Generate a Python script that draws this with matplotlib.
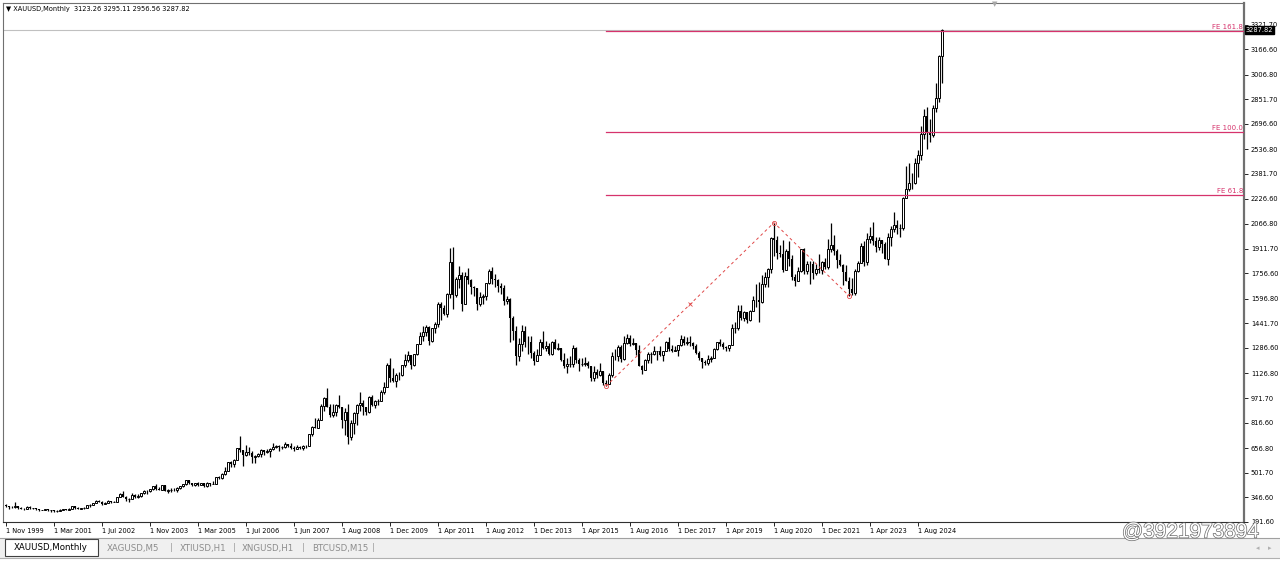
import numpy as np
import matplotlib
matplotlib.use("Agg")
import matplotlib.pyplot as plt
from matplotlib.patches import Rectangle
from matplotlib import patheffects

matplotlib.rc('font', family='DejaVu Sans', size=5)

# monthly XAUUSD, Nov 1999 .. Apr 2025 (broker history has a few extra bars in 2006-07)
closes = [
    291.4, 288.8,
    283.3, 293.7, 276.8, 273.6, 272.3, 288.2, 276.8, 277.6, 273.5, 264.5, 269.1, 272.2,
    265.6, 266.7, 257.7, 263.2, 267.5, 270.6, 265.9, 273.0, 293.1, 278.8, 275.5, 278.7,
    282.3, 296.9, 301.4, 308.2, 326.6, 318.5, 304.7, 312.8, 323.7, 316.9, 317.6, 347.2,
    367.5, 347.5, 334.9, 336.8, 361.4, 346.0, 354.8, 375.6, 388.0, 383.8, 398.0, 416.1,
    399.8, 395.9, 423.7, 388.5, 393.3, 395.8, 391.4, 407.3, 415.7, 428.4, 453.4, 438.0,
    422.2, 435.5, 427.5, 435.7, 417.3, 437.1, 429.0, 433.3, 473.3, 470.8, 495.7, 513.0,
    568.8, 556.0, 582.0, 654.5, 643.0, 613.5,
    632.5, 626.3, 599.3, 603.8, 620.0, 646.7, 632.0, 640.0, 650.5, 665.5, 668.0, 661.8,
    664.0, 679.4, 672.0, 657.5, 650.5,
    665.5, 660.0, 672.0, 668.0, 742.8, 789.5, 783.5, 833.8,
    923.3, 971.5, 916.2, 864.5, 885.8, 928.3, 913.0, 833.0, 880.8, 724.0, 814.5, 878.2,
    927.3, 942.5, 916.5, 883.3, 979.5, 927.3, 954.8, 955.5, 1007.7, 1040.0, 1181.5, 1096.5,
    1081.0, 1118.5, 1115.5, 1179.3, 1214.0, 1244.0, 1181.0, 1247.5, 1308.5, 1358.8, 1384.5, 1421.1,
    1333.0, 1411.3, 1439.0, 1563.7, 1536.5, 1500.4, 1628.3, 1826.0, 1620.0, 1722.0, 1746.0, 1565.8,
    1738.0, 1711.3, 1668.9, 1663.9, 1560.5, 1604.2, 1614.9, 1692.6, 1772.1, 1719.2, 1713.1, 1675.4,
    1663.5, 1579.0, 1597.1, 1472.0, 1392.6, 1234.6, 1313.2, 1395.9, 1327.1, 1323.5, 1253.1, 1201.6,
    1243.9, 1326.4, 1283.7, 1295.8, 1245.8, 1327.1, 1282.9, 1287.4, 1208.9, 1171.6, 1182.8, 1183.9,
    1283.4, 1212.7, 1183.7, 1183.9, 1190.3, 1172.4, 1095.4, 1134.6, 1115.1, 1142.0, 1064.5, 1060.3,
    1116.5, 1238.0, 1234.4, 1292.9, 1214.7, 1320.6, 1349.7, 1308.4, 1315.8, 1273.5, 1173.3, 1150.7,
    1210.1, 1248.9, 1249.2, 1268.3, 1268.3, 1241.6, 1269.4, 1321.4, 1279.8, 1270.1, 1274.6, 1303.1,
    1345.1, 1318.4, 1325.0, 1315.6, 1298.6, 1252.9, 1223.6, 1201.2, 1191.4, 1214.6, 1221.8, 1282.5,
    1321.2, 1313.1, 1292.4, 1283.6, 1305.4, 1409.5, 1413.8, 1520.2, 1472.5, 1513.6, 1463.8, 1517.0,
    1587.7, 1585.7, 1577.2, 1686.4, 1730.5, 1781.8, 1975.9, 1967.8, 1886.9, 1879.1, 1776.6, 1898.4,
    1847.7, 1734.0, 1707.7, 1769.1, 1906.9, 1770.1, 1814.2, 1813.6, 1756.9, 1783.4, 1774.2, 1829.2,
    1797.2, 1909.0, 1937.4, 1896.7, 1837.6, 1807.0, 1765.9, 1711.0, 1660.6, 1633.6, 1768.5, 1824.0,
    1928.4, 1826.8, 1969.3, 1990.0, 1962.7, 1919.4, 1965.1, 1940.2, 1848.6, 1983.9, 2036.4, 2062.9,
    2039.5, 2044.3, 2229.9, 2286.3, 2327.3, 2326.6, 2447.6, 2503.4, 2634.6, 2743.9, 2643.2, 2624.5,
    2798.4, 2857.8, 3123.26, 3287.82,
]
highs = [
    302, 294,
    292, 316, 294, 288, 277, 294, 293, 279, 278, 276, 270, 275,
    273, 268, 270, 265, 276, 274, 272, 279, 294, 293, 283, 281,
    285, 299, 304, 309, 328, 330, 322, 320, 329, 326, 323, 350,
    372, 389, 354, 342, 372, 366, 368, 377, 394, 393, 399, 417,
    428, 412, 427, 427, 397, 403, 407, 413, 419, 431, 456, 456,
    438, 439, 446, 438, 437, 442, 432, 447, 474, 482, 497, 540,
    572, 576, 588, 654, 730, 642,
    676, 664, 638, 610, 628, 649, 640, 648, 657, 691, 675, 674,
    672, 692, 684, 688, 668,
    678, 670, 677, 676, 745, 795, 848, 843,
    933, 976, 1033, 935, 932, 937, 990, 918, 912, 935, 835, 882,
    933, 1007, 960, 917, 983, 990, 961, 966, 1023, 1070, 1195, 1226,
    1162, 1127, 1137, 1180, 1249, 1265, 1243, 1249, 1309, 1388, 1425, 1431,
    1424, 1411, 1448, 1575, 1577, 1557, 1632, 1913, 1921, 1733, 1803, 1764,
    1764, 1791, 1718, 1677, 1667, 1640, 1627, 1693, 1781, 1796, 1755, 1723,
    1695, 1684, 1616, 1601, 1487, 1424, 1348, 1434, 1424, 1361, 1361, 1267,
    1280, 1345, 1392, 1331, 1315, 1332, 1345, 1320, 1287, 1255, 1224, 1238,
    1307, 1290, 1224, 1224, 1232, 1205, 1175, 1170, 1157, 1191, 1142, 1088,
    1128, 1263, 1283, 1304, 1304, 1362, 1375, 1367, 1352, 1318, 1306, 1182,
    1220, 1264, 1261, 1296, 1270, 1296, 1270, 1331, 1358, 1306, 1300, 1308,
    1366, 1361, 1356, 1365, 1326, 1309, 1265, 1220, 1214, 1243, 1237, 1284,
    1326, 1346, 1325, 1302, 1306, 1439, 1453, 1555, 1557, 1517, 1516, 1525,
    1611, 1689, 1704, 1747, 1765, 1789, 1985, 2075, 1992, 1933, 1965, 1907,
    1959, 1871, 1755, 1798, 1912, 1916, 1832, 1834, 1836, 1813, 1877, 1832,
    1853, 1974, 2070, 1998, 1910, 1879, 1814, 1807, 1735, 1729, 1786, 1833,
    1949, 1959, 2009, 2048, 2079, 1984, 1987, 1949, 1953, 2009, 2052, 2145,
    2089, 2066, 2236, 2432, 2450, 2388, 2484, 2532, 2686, 2790, 2801, 2726,
    2817, 2956, 3128, 3295.11,
]
lows = [
    286, 275,
    281, 282, 274, 271, 268, 271, 275, 271, 269, 263, 264, 267,
    263, 255, 255, 254, 263, 265, 264, 264, 271, 276, 272, 272,
    276, 282, 289, 299, 308, 316, 301, 303, 312, 311, 315, 317,
    346, 346, 326, 320, 337, 342, 341, 352, 369, 368, 379, 395,
    396, 392, 393, 386, 371, 383, 386, 383, 397, 414, 426, 432,
    418, 418, 421, 423, 413, 414, 417, 428, 431, 464, 465, 490,
    513, 538, 540, 582, 630, 543,
    606, 612, 561, 561, 598, 602, 612, 628, 603, 646, 655, 636,
    652, 660, 664, 651, 639,
    650, 652, 643, 658, 671, 732, 780, 782,
    834, 890, 913, 855, 851, 857, 910, 786, 737, 681, 705, 748,
    801, 890, 866, 865, 880, 922, 906, 929, 950, 1000, 1040, 1075,
    1071, 1044, 1087, 1110, 1164, 1200, 1155, 1174, 1243, 1315, 1330, 1361,
    1308, 1326, 1380, 1420, 1462, 1496, 1479, 1601, 1532, 1605, 1666, 1522,
    1563, 1691, 1627, 1612, 1527, 1548, 1564, 1588, 1687, 1691, 1672, 1636,
    1627, 1555, 1565, 1321, 1338, 1180, 1207, 1270, 1292, 1251, 1226, 1182,
    1202, 1240, 1277, 1268, 1240, 1240, 1281, 1273, 1205, 1160, 1131, 1167,
    1167, 1190, 1142, 1175, 1170, 1162, 1077, 1080, 1098, 1111, 1052, 1046,
    1062, 1107, 1208, 1206, 1200, 1208, 1310, 1301, 1306, 1241, 1171, 1122,
    1146, 1194, 1195, 1244, 1214, 1236, 1205, 1266, 1270, 1261, 1265, 1236,
    1302, 1307, 1303, 1301, 1281, 1250, 1211, 1160, 1180, 1182, 1196, 1221,
    1276, 1302, 1281, 1266, 1266, 1304, 1382, 1400, 1460, 1459, 1445, 1455,
    1517, 1547, 1451, 1568, 1670, 1671, 1757, 1863, 1849, 1860, 1764, 1775,
    1803, 1717, 1677, 1720, 1766, 1751, 1750, 1688, 1721, 1746, 1758, 1753,
    1781, 1781, 1890, 1872, 1787, 1805, 1681, 1709, 1615, 1617, 1617, 1765,
    1823, 1804, 1809, 1949, 1932, 1893, 1903, 1884, 1846, 1810, 1931, 2017,
    2002, 1984, 2030, 2228, 2277, 2287, 2319, 2364, 2472, 2603, 2536, 2583,
    2614, 2772, 2833, 2956.56,
]
first_open = 299.3

date_labels = ['1 Nov 1999', '1 Mar 2001', '1 Jul 2002', '1 Nov 2003', '1 Mar 2005',
               '1 Jul 2006', '1 Jun 2007', '1 Aug 2008', '1 Dec 2009', '1 Apr 2011',
               '1 Aug 2012', '1 Dec 2013', '1 Apr 2015', '1 Aug 2016', '1 Dec 2017',
               '1 Apr 2019', '1 Aug 2020', '1 Dec 2021', '1 Apr 2023', '1 Aug 2024']
price_ticks = [3321.70, 3166.60, 3006.80, 2851.70, 2696.60, 2536.80, 2381.70, 2226.60,
               2066.80, 1911.70, 1756.60, 1596.80, 1441.70, 1286.60, 1126.80, 971.70,
               816.60, 656.80, 501.70, 346.60, 191.60]

# fibo expansion anchors (A low, B high, C low) and levels
fe_a, fe_b, fe_c = 1046, 2075, 1615
fe_levels = [61.8, 100.0, 161.8]

tabs = ['XAGUSD,M5', 'XTIUSD,H1', 'XNGUSD,H1', 'BTCUSD,M15']

assert len(closes) == len(highs) == len(lows)

c = np.array(closes, dtype=float)
o = np.array([first_open] + closes[:-1], dtype=float)
h = np.maximum(np.array(highs, dtype=float), np.maximum(o, c))
l = np.minimum(np.array(lows, dtype=float), np.minimum(o, c))
x = np.arange(len(c))
up = c >= o

W, H = 1280, 562
fig = plt.figure(figsize=(W / 100, H / 100), dpi=100)
ax = fig.add_axes([3 / W, 40 / H, 1241 / W, 519 / H])

ax.vlines(x, l, h, color='black', lw=0.9, zorder=2)
ax.bar(x[up], (c - o)[up], bottom=o[up], width=0.78, facecolor='white',
       edgecolor='black', lw=0.7, zorder=3)
ax.bar(x[~up], (o - c)[~up], bottom=c[~up], width=0.78, color='black', lw=0, zorder=3)

# bid line
ax.axhline(c[-1], color='#c0c0c0', lw=0.8, zorder=1)

# fibonacci expansion
ia = lows.index(fe_a)
ib = highs.index(fe_b)
ic = lows.index(fe_c)
red = '#e04848'
ax.plot([ia, ib, ic], [fe_a, fe_b, fe_c], color=red, lw=0.7, ls=(0, (3, 3)), zorder=4)
ax.plot([ia, ib, ic], [fe_a, fe_b, fe_c], 'o', mfc='none', mec=red, ms=3, mew=0.6, zorder=4)
ax.plot([(ia + ib) / 2], [(fe_a + fe_b) / 2], marker='x', color=red, ms=2.5, mew=0.6, zorder=4)

xmax = 412.7
fe_col = '#d6336c'
for lv in fe_levels:
    p = fe_c + lv / 100 * (fe_b - fe_a)
    ax.plot([ia, xmax], [p, p], color=fe_col, lw=0.9, zorder=4)
    ax.text(xmax - 0.3, p + 6, 'FE %.1f' % lv, color=fe_col, fontsize=5,
            ha='right', va='bottom', zorder=5)

ax.set_xlim(-1, xmax)
ax.set_ylim(191.6, 3457)

ax.set_xticks(np.arange(len(date_labels)) * 16)
ax.set_xticklabels(date_labels)
for t in ax.get_xticklabels():
    t.set_ha('left')
ax.tick_params(axis='x', direction='out', length=3, width=0.6, pad=1.5, labelsize=4.8)

ax.yaxis.tick_right()
ax.set_yticks(price_ticks)
ax.set_yticklabels(['%.2f' % v for v in price_ticks])
ax.tick_params(axis='y', direction='out', length=3, width=0.6, pad=2, labelsize=4.8)

for s in ['left', 'top']:
    ax.spines[s].set_color('#707070')
    ax.spines[s].set_linewidth(0.8)
ax.spines['bottom'].set_color('#303030')
ax.spines['bottom'].set_linewidth(0.8)
ax.spines['right'].set_color('#707070')
ax.spines['right'].set_linewidth(1.6)

# current price tag
ax.text(1.0015, c[-1], '%.2f' % c[-1], transform=ax.get_yaxis_transform(),
        ha='left', va='center', color='white', fontsize=4.8, clip_on=False,
        bbox=dict(boxstyle='square,pad=0.12', fc='black', ec='black'))

# header
fig.text(6 / W, 1 - 9 / H, '\u25bc XAUUSD,Monthly  %.2f %.2f %.2f %.2f' % (o[-1], h[-1], l[-1], c[-1]),
         fontsize=4.8, va='center', ha='left')
fig.text(995 / W, 1 - 4 / H, '\u25bc', fontsize=5, color='#a8a8a8', ha='center', va='center')


def fy(py):
    return 1 - py / H


# tab bar
fig.add_artist(Rectangle((0, fy(558)), 1, (558 - 538) / H, transform=fig.transFigure,
                         fc='#f0f0f0', ec='none', zorder=0))
fig.add_artist(plt.Line2D([0, 1], [fy(538), fy(538)], transform=fig.transFigure,
                          color='#a0a0a0', lw=0.8))
fig.add_artist(plt.Line2D([0, 1], [fy(558), fy(558)], transform=fig.transFigure,
                          color='#b0b0b0', lw=0.8))
fig.add_artist(Rectangle((5 / W, fy(556)), 93 / W, 17 / H, transform=fig.transFigure,
                         fc='white', ec='#404040', lw=0.8, zorder=1))
fig.text(51 / W, fy(548), 'XAUUSD,Monthly', fontsize=6.2, ha='center', va='center', zorder=2)
tx = [107, 180, 242, 312]
for t, px in zip(tabs, tx):
    fig.text(px / W, fy(548), t, fontsize=6.2, color='#8c8c8c', ha='left', va='center')
for px in [171, 234, 303, 373]:
    fig.text(px / W, fy(548), '|', fontsize=6.2, color='#a0a0a0', ha='center', va='center')
fig.text(1258 / W, fy(548), '\u25c2', fontsize=5, color='#b0b0b0', ha='center', va='center')
fig.text(1270 / W, fy(548), '\u25b8', fontsize=5, color='#b0b0b0', ha='center', va='center')

# watermark
fig.text(1122 / W, fy(532), '@3921973894', fontsize=15, family='Liberation Sans',
         color='white', ha='left', va='center', zorder=10,
         path_effects=[patheffects.withStroke(linewidth=1.0, foreground='#6a6a6a')])

fig.savefig('out.png', dpi=100)
